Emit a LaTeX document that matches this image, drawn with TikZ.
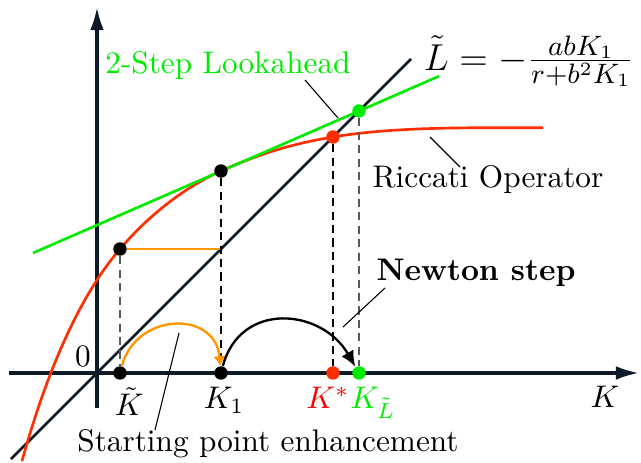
\documentclass[tikz,border=0pt]{standalone}
\usepackage{amsmath}
\usetikzlibrary{positioning,arrows.meta}

\definecolor{axisnavy}{RGB}{14,26,40}
\definecolor{riccred}{RGB}{255,45,0}
\definecolor{lookgreen}{RGB}{0,235,0}
\definecolor{startorange}{RGB}{255,152,0}

\begin{document}
\begin{tikzpicture}[
		x=0.45cm, y=0.45cm,
		>=Latex,
		axis/.style={draw=axisnavy, line width=1pt},
		ptdot/.style={circle, fill, inner sep=0pt, minimum size=4.3pt},
		helpline/.style={dash pattern=on 2.6pt off 1.7pt, line width=0.55pt},
		pointer/.style={line width=0.35pt},
		ticklabel/.style={inner sep=1pt}
		]
		
		\useasboundingbox (-2.425,-2.225) rectangle (13.6,9.325);
		
		%--------------------------------------------------
		% Axes and diagonal
		%--------------------------------------------------
		
		\draw[axis,-{Latex[length=7.4pt,width=4.4pt]}]
		(-2.2,0) -- (13.55,0);
		
		\draw[axis,-{Latex[length=7.4pt,width=4.4pt]}]
		(0,-0.875) -- (0,9.15);
		
		\draw[axisnavy,line width=0.85pt]
		(-2.15,-2.15) -- (7.85,7.85);
		
		%--------------------------------------------------
		% Riccati operator and lookahead line
		%--------------------------------------------------
		
		\draw[riccred,line width=0.85pt]
		(-1.875,-2.2) .. controls (-1.1,0.6) and (-0.2,2.2) .. (0.575,3.1)
		.. controls (1.3,3.95) and (2.2,4.65) .. (3.1,5.05)
		.. controls (4.2,5.54) and (5.0,5.75) .. (5.9,5.9)
		.. controls (7.5,6.17) and (9.5,6.13) .. (11.15,6.13);
		
		\draw[lookgreen,line width=0.85pt]
		(-1.6,3.0) -- (8.55,7.42);
		
		%--------------------------------------------------
		% Points
		%--------------------------------------------------
		
		\node[ptdot] (ktpt) at (0.575,3.1) {};
		\node[ptdot] (k1pt) at (3.1,5.05) {};
		\node[ptdot,fill=riccred] (kspt) at (5.9,5.9) {};
		\node[ptdot,fill=lookgreen] (klpt) at (6.55,6.55) {};
		
		\node[ptdot] (kt) at (0.575,0) {};
		\node[ptdot] (k1) at (3.1,0) {};
		\node[ptdot,fill=riccred] (ks) at (5.9,0) {};
		\node[ptdot,fill=lookgreen] (kl) at (6.55,0) {};
		
		\coordinate (kfix) at (3.1,3.1);
		
		%--------------------------------------------------
		% Helper lines
		%--------------------------------------------------
		
		\draw[startorange,line width=0.65pt]
		(ktpt) -- (kfix);
		
		\draw[helpline,black!65] (ktpt) -- (kt);
		\draw[helpline] (k1pt) -- (k1);
		\draw[helpline] (kspt) -- (ks);
		\draw[helpline,black!65] (klpt) -- (kl);
		
		%--------------------------------------------------
		% Steps
		%--------------------------------------------------
		
		\draw[startorange,line width=0.75pt,-{Latex[length=3pt,width=4.2pt]}]
		(kt) to[out=75,in=95,looseness=1.45] (k1);
		
		\draw[line width=0.75pt,-{Latex[length=5pt,width=4.4pt]}]
		(k1) to[out=75,in=120,looseness=1.3] (kl);
		
		%--------------------------------------------------
		% Labels
		%--------------------------------------------------
		
		\node (zero) at (-0.35,0.42) {$0$};
		\node[ticklabel] (ktlabel) [below=1pt of kt,xshift=3pt] {$\tilde{K}$};
		\node[ticklabel] (k1label) [below=1pt of k1,xshift=1pt] {$K_1$};
		\node[ticklabel,text=red] (kslabel) [below=1pt of ks,xshift=-1.6pt] {$K^*$};
		\node[ticklabel,text=lookgreen] (kllabel) [below=1pt of kl,xshift=4.5pt] {$K_{\tilde{L}}$};
		\node (klabel) at (12.7,-0.6) {$K$};
		
		\node[text=lookgreen] (looklabel) at (3.275,7.675) {2-Step Lookahead};
		\node[font=\fontsize{12.6}{15}\selectfont] (ltilde) at (10.8,7.8)
		{$\tilde{L} = -\frac{abK_1}{r+b^2K_1}$};
		\node (riccatilabel) at (9.775,4.825) {Riccati Operator};
		\node[font=\bfseries] (newtonlabel) at (9.475,2.5) {Newton step};
		\node (startlabel) at (4.275,-1.775) {Starting point enhancement};
		
		%--------------------------------------------------
		% Pointers
		%--------------------------------------------------
		
		\coordinate (lookA) at (5.2,7.325);
		\coordinate (lookB) at (6.025,6.375);
		\coordinate (riccA) at (8.325,5.9);
		\coordinate (riccB) at (9.075,5.15);
		\coordinate (newtA) at (7.2,2.125);
		\coordinate (newtB) at (6.15,1.15);
		\coordinate (startA) at (2.05,1.0);
		\coordinate (startB) at (1.45,-1.425);
		
		\draw[pointer] (lookA) -- (lookB);
		\draw[pointer] (riccA) -- (riccB);
		\draw[pointer] (newtA) -- (newtB);
		\draw[pointer] (startA) -- (startB);
		
	\end{tikzpicture}
\end{document}
